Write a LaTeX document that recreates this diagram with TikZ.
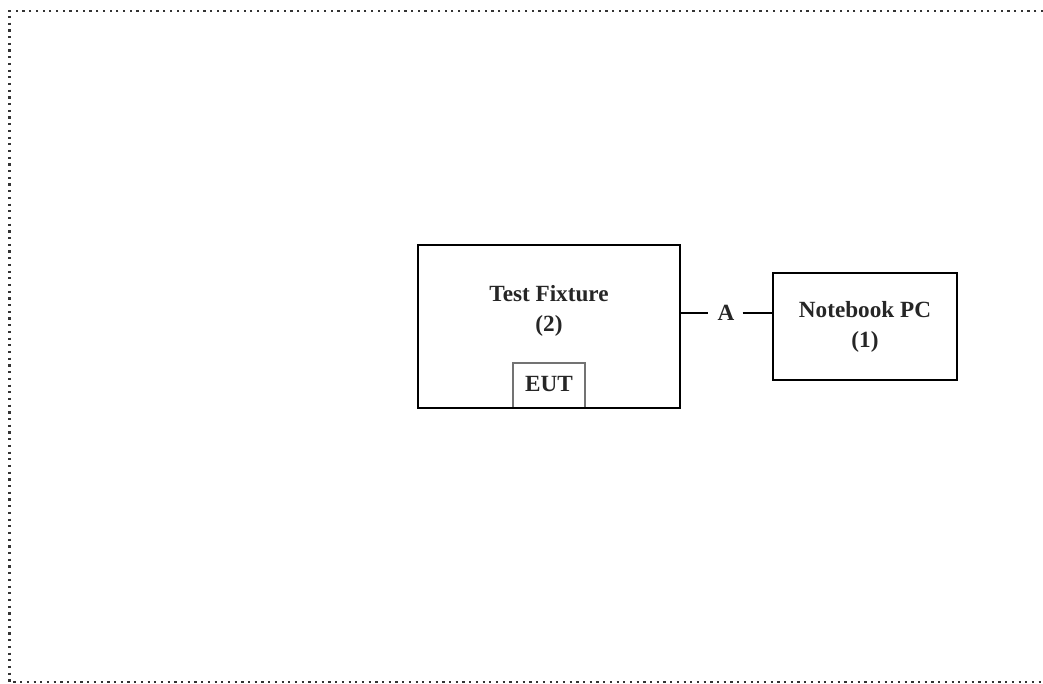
\documentclass[tikz,border=0pt]{standalone}
\usepackage{fontspec}
\setmainfont{Liberation Serif}
\begin{document}
\begin{tikzpicture}[x=1pt,y=-1pt,
  bigbox/.style={draw=black, line width=2.8pt, fill=none, inner sep=0pt},
  smallbox/.style={draw=black!55, line width=1.1pt, inner sep=0pt},
  lbl/.style={font=\fontsize{23.2}{30}\selectfont\bfseries, text=black!85, align=center, inner sep=0pt},
  conn/.style={line width=2.6pt, draw=black}
]
\useasboundingbox (0,0) rectangle (1043,684);
\draw[black!80, line width=2.2pt, dash pattern=on 2.2pt off 4.5pt] (1043,11) -- (9.5,11) -- (9.5,682) -- (1043,682);
\node[smallbox, minimum width=72pt, minimum height=45pt] (eut) at (549,385.5) {};
\node[lbl] (eutl) at (549,384) {EUT};
\node[bigbox, minimum width=262pt, minimum height=163pt] (tf) at (549,326.5) {};
\node[lbl] (tfl) at (549,311) {Test Fixture\\(2)};
\node[lbl] (nbl) at (865,326.5) {Notebook PC\\(1)};
\node[bigbox, minimum width=184pt, minimum height=107pt] (nb) at (865,326.5) {};
\node[lbl] (A) at (726,313) {A};
\draw[conn] (A.west -| tf.east) -- ([xshift=-9pt]A.west);
\draw[conn] ([xshift=8pt]A.east) -- (A.east -| nb.west);
\end{tikzpicture}
\end{document}
